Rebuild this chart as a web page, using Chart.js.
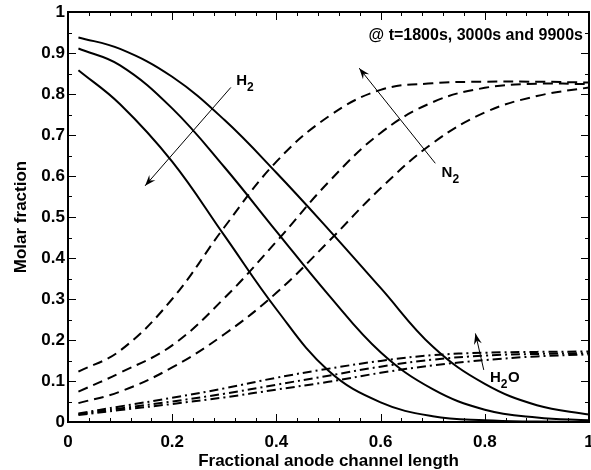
<!DOCTYPE html>
<html lang="en">
<head>
    <meta charset="UTF-8">
    <title>Molar fraction along anode channel</title>
    <script src="https://cdn.jsdelivr.net/npm/chart.js"></script>
    <style>
        body { margin: 0; background: #fff; }
    </style>
</head>
<body>
    <canvas id="grafico" width="591" height="470"></canvas>

    <script>
        // positions along the channel (fraction of length)
        const xPos = [0.02, 0.1, 0.2, 0.3, 0.4, 0.5, 0.6, 0.7, 0.8, 0.9, 1.0];

        // H2 (solid) at t = 1800s, 3000s, 9900s
        const h2_1800 = [0.938, 0.91, 0.842, 0.737, 0.608, 0.47, 0.327, 0.184, 0.093, 0.041, 0.018];
        const h2_3000 = [0.911, 0.87, 0.765, 0.622, 0.465, 0.31, 0.17, 0.08, 0.03, 0.011, 0.004];
        const h2_9900 = [0.858, 0.775, 0.635, 0.455, 0.275, 0.125, 0.048, 0.014, 0.004, 0.001, 0.0];

        // N2 (dashed)
        const n2_1800 = [0.046, 0.074, 0.133, 0.214, 0.315, 0.44, 0.57, 0.68, 0.755, 0.795, 0.816];
        const n2_3000 = [0.074, 0.12, 0.187, 0.302, 0.44, 0.585, 0.705, 0.78, 0.815, 0.825, 0.824];
        const n2_9900 = [0.123, 0.174, 0.3, 0.475, 0.635, 0.745, 0.81, 0.826, 0.83, 0.83, 0.828];

        // H2O (dash-dot)
        const h2o_1800 = [0.017, 0.029, 0.044, 0.06, 0.079, 0.098, 0.12, 0.138, 0.151, 0.16, 0.165];
        const h2o_3000 = [0.019, 0.033, 0.05, 0.069, 0.091, 0.113, 0.135, 0.152, 0.162, 0.166, 0.168];
        const h2o_9900 = [0.021, 0.038, 0.059, 0.082, 0.108, 0.13, 0.149, 0.163, 0.169, 0.171, 0.172];

        // axis ticks
        const xTicks = [0, 0.2, 0.4, 0.6, 0.8, 1];
        const yTicks = [0, 0.1, 0.2, 0.3, 0.4, 0.5, 0.6, 0.7, 0.8, 0.9, 1];
        const xMinor = [0.04, 0.08, 0.12, 0.16, 0.24, 0.28, 0.32, 0.36, 0.44, 0.48, 0.52, 0.56, 0.64, 0.68, 0.72, 0.76, 0.84, 0.88, 0.92, 0.96];
        const yMinor = [0.05, 0.15, 0.25, 0.35, 0.45, 0.55, 0.65, 0.75, 0.85, 0.95];

        // arrows (data coords: from -> to) and their labels
        const setas = [
            { de: [0.3125, 0.816], para: [0.148, 0.576] },   // H2
            { de: [0.705, 0.631], para: [0.559, 0.863] },    // N2
            { de: [0.798, 0.127], para: [0.782, 0.216] }     // H2O
        ];
        const rotulos = [
            { x: 0.323, y: 0.823, partes: ['H', '2'] },
            { x: 0.717, y: 0.598, partes: ['N', '2'] },
            { x: 0.81, y: 0.098, partes: ['H', '2', 'O'] }
        ];

        const fonte = '"Liberation Sans", Arial, Helvetica, sans-serif';

        function serie(valores) {
            return xPos.map((x, i) => ({ x: x, y: valores[i] }));
        }

        function linha(label, valores, dash) {
            return {
                label: label,
                data: serie(valores),
                borderColor: '#000',
                borderWidth: 2,
                borderDash: dash,
                pointRadius: 0,
                fill: false,
                showLine: true,
                tension: 0.4
            };
        }

        const tracejado = [10, 6];
        const tracoPonto = [9, 4, 2, 4];

        // moldura, ticks internos, setas e textos
        const enfeites = {
            id: 'enfeites',
            afterDraw(chart) {
                const ctx = chart.ctx;
                const a = chart.chartArea;
                const sx = chart.scales.x;
                const sy = chart.scales.y;
                ctx.save();
                ctx.strokeStyle = '#000';

                ctx.lineWidth = 1;
                const tickX = (v, len) => {
                    const p = Math.round(sx.getPixelForValue(v)) + 0.5;
                    ctx.beginPath();
                    ctx.moveTo(p, a.bottom); ctx.lineTo(p, a.bottom - len);
                    ctx.moveTo(p, a.top); ctx.lineTo(p, a.top + len);
                    ctx.stroke();
                };
                const tickY = (v, len) => {
                    const p = Math.round(sy.getPixelForValue(v)) + 0.5;
                    ctx.beginPath();
                    ctx.moveTo(a.left, p); ctx.lineTo(a.left + len, p);
                    ctx.moveTo(a.right, p); ctx.lineTo(a.right - len, p);
                    ctx.stroke();
                };
                xTicks.forEach(v => tickX(v, 8));
                xMinor.forEach(v => tickX(v, 4));
                yTicks.forEach(v => tickY(v, 8));
                yMinor.forEach(v => tickY(v, 4));

                ctx.lineWidth = 2;
                ctx.strokeRect(a.left, a.top, a.right - a.left, a.bottom - a.top);

                // setas
                ctx.lineWidth = 1;
                ctx.fillStyle = '#000';
                setas.forEach(s => {
                    const x0 = sx.getPixelForValue(s.de[0]), y0 = sy.getPixelForValue(s.de[1]);
                    const x1 = sx.getPixelForValue(s.para[0]), y1 = sy.getPixelForValue(s.para[1]);
                    const ang = Math.atan2(y1 - y0, x1 - x0);
                    ctx.beginPath();
                    ctx.moveTo(x0, y0); ctx.lineTo(x1, y1);
                    ctx.stroke();
                    const L = 11, w = 4;
                    const bx = x1 - L * Math.cos(ang), by = y1 - L * Math.sin(ang);
                    const mx = x1 - 0.65 * L * Math.cos(ang), my = y1 - 0.65 * L * Math.sin(ang);
                    ctx.beginPath();
                    ctx.moveTo(x1, y1);
                    ctx.lineTo(bx + w * Math.sin(ang), by - w * Math.cos(ang));
                    ctx.lineTo(mx, my);
                    ctx.lineTo(bx - w * Math.sin(ang), by + w * Math.cos(ang));
                    ctx.closePath();
                    ctx.fill();
                });

                // rotulos com subscrito
                ctx.textBaseline = 'alphabetic';
                ctx.textAlign = 'left';
                rotulos.forEach(r => {
                    let px = sx.getPixelForValue(r.x);
                    const py = sy.getPixelForValue(r.y);
                    r.partes.forEach(p => {
                        const sub = /\d/.test(p);
                        ctx.font = 'bold ' + (sub ? 12 : 15) + 'px ' + fonte;
                        ctx.fillText(p, px, sub ? py + 6 : py);
                        px += ctx.measureText(p).width + (sub ? 0.5 : 0);
                    });
                });

                ctx.font = 'bold 16px ' + fonte;
                ctx.textAlign = 'right';
                ctx.fillText('@ t=1800s, 3000s and 9900s', a.right - 6, a.top + 28);
                ctx.restore();
            }
        };

        const ctx = document.getElementById('grafico').getContext('2d');
        new Chart(ctx, {
            type: 'scatter',
            data: {
                datasets: [
                    linha('H2 1800s', h2_1800, []),
                    linha('H2 3000s', h2_3000, []),
                    linha('H2 9900s', h2_9900, []),
                    linha('N2 1800s', n2_1800, tracejado),
                    linha('N2 3000s', n2_3000, tracejado),
                    linha('N2 9900s', n2_9900, tracejado),
                    linha('H2O 1800s', h2o_1800, tracoPonto),
                    linha('H2O 3000s', h2o_3000, tracoPonto),
                    linha('H2O 9900s', h2o_9900, tracoPonto)
                ]
            },
            options: {
                responsive: false,
                animation: false,
                layout: { padding: { top: 12, right: 2, left: 0, bottom: 0 } },
                plugins: {
                    legend: { display: false },
                    tooltip: { enabled: false }
                },
                scales: {
                    x: {
                        type: 'linear',
                        min: 0,
                        max: 1,
                        afterBuildTicks: s => { s.ticks = xTicks.map(v => ({ value: v })); },
                        afterFit: s => { s.height = 48; s.paddingLeft = 0; s.paddingRight = 0; },
                        grid: { display: false, drawTicks: false },
                        border: { display: false },
                        ticks: {
                            color: '#000',
                            font: { family: fonte, size: 17, weight: 'bold' },
                            padding: 10,
                            maxRotation: 0,
                            autoSkip: false,
                            callback: v => String(+v.toFixed(1))
                        },
                        title: {
                            display: true,
                            text: 'Fractional anode channel length',
                            color: '#000',
                            font: { family: fonte, size: 17, weight: 'bold', lineHeight: 1 },
                            padding: { top: 0, bottom: 0 }
                        }
                    },
                    y: {
                        type: 'linear',
                        min: 0,
                        max: 1,
                        afterBuildTicks: s => { s.ticks = yTicks.map(v => ({ value: v })); },
                        afterFit: s => { s.width = 68; s.paddingTop = 0; s.paddingBottom = 0; },
                        grid: { display: false, drawTicks: false },
                        border: { display: false },
                        ticks: {
                            color: '#000',
                            font: { family: fonte, size: 17, weight: 'bold' },
                            padding: 3,
                            autoSkip: false,
                            callback: v => String(+v.toFixed(1))
                        },
                        title: {
                            display: true,
                            text: 'Molar fraction',
                            color: '#000',
                            font: { family: fonte, size: 17, weight: 'bold' },
                            padding: { top: 11, bottom: 0 }
                        }
                    }
                }
            },
            plugins: [enfeites]
        });
    </script>
</body>
</html>
